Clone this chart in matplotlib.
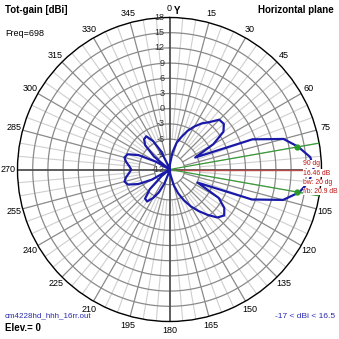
"""Horizontal-plane gain pattern (EZNEC style polar plot)."""

import numpy as np
import matplotlib
matplotlib.use("Agg")
import matplotlib.pyplot as plt
from matplotlib.transforms import offset_copy

# azimuth (deg, clockwise from Y) and total gain (dBi)
azimuth = np.arange(0, 360, 5)
gain = np.array([
    -14.0, -11.0, -8.5, -6.5, -5.2, -3.6, -2.2, -0.9,     # 0..35
    0.2, 1.9, 2.0, 1.0, -2.0, -6.4, 5.4, 11.3,            # 40..75
    13.8, 15.9, 16.46, 15.6, 14.0, 11.2, 5.3, -5.9,       # 80..115
    -0.8, 1.2, 2.1, 1.4, -0.3, -2.0, -3.6, -5.3,          # 120..155
    -7.0, -8.8, -11.0, -14.0, -17.0, -14.0, -12.5, -11.0, # 160..195
    -9.0, -7.0, -5.5, -4.3, -4.5, -6.5, -10.0, -14.0,     # 200..235
    -8.0, -5.2, -3.3, -2.8, -3.3, -4.0, -4.44, -4.0,      # 240..275
    -3.3, -2.8, -3.2, -5.3, -9.0, -14.0, -8.0, -5.2,      # 280..315
    -4.2, -4.0, -5.5, -8.0, -11.0, -14.0, -16.0, -15.0,   # 320..355
])
ring_values = [-12, -9, -6, -3, 0, 3, 6, 9, 12, 15, 18]
angle_labels = [a for a in range(0, 360, 15) if a != 90]
hp_angles = [80, 100]          # half-power (-3 dB) directions
freq = 698
elev = 0
fname = "cm4228hd_hhh_16rr.out"

R_MIN, R_MAX = -12, 18
W = 339

fig = plt.figure(figsize=(3.39, 3.39), dpi=100)
plt.rcParams["font.family"] = ["Liberation Sans", "DejaVu Sans"]

cx, cy, rad = 169.5, 169.5, 152
ax = fig.add_axes([(cx - rad) / W, (W - cy - rad) / W, 2 * rad / W, 2 * rad / W],
                  projection="polar")
ax.set_theta_zero_location("N")
ax.set_theta_direction(-1)
ax.set_ylim(R_MIN, R_MAX)
ax.grid(False)
ax.set_xticks([])
ax.set_yticks([])
ax.spines["polar"].set_color("black")
ax.spines["polar"].set_linewidth(1.0)

full = np.linspace(0, 2 * np.pi, 361)
# rings
for g in ring_values[1:-1]:
    ax.plot(full, np.full_like(full, g), color="#8a8a8a", lw=0.9, zorder=1)
# spokes
for a in range(0, 360, 5):
    t = np.radians(a)
    if a % 90 == 0:
        ax.plot([t, t], [R_MIN, R_MAX], color="#505050", lw=1.3, zorder=2)
    elif a % 15 == 0:
        ax.plot([t, t], [-9, R_MAX], color="#8a8a8a", lw=0.9, zorder=1)
    else:
        ax.plot([t, t], [-6, R_MAX], color="#cfcfcf", lw=0.8, zorder=0.5)

# ring labels along 0 deg
lab_tr = offset_copy(ax.transData, fig=fig, x=-3.5, y=0, units="points")
for g in ring_values:
    ax.text(0, g, str(g), transform=lab_tr, ha="right", va="center",
            fontsize=6.5, color="#303030", zorder=3)

# azimuth labels
for a in angle_labels:
    ax.text(np.radians(a), R_MAX + 1.8, str(a), ha="center", va="center",
            fontsize=6.5, color="black")

# max direction and beamwidth lines
i_max = int(np.argmax(gain))
a_max = azimuth[i_max]
g_max = gain[i_max]
ax.plot([np.radians(a_max)] * 2, [R_MIN, R_MAX], color="#b84a4a", lw=1.0, zorder=3)
for a in hp_angles:
    ax.plot([np.radians(a)] * 2, [R_MIN, R_MAX], color="#3a9a3a", lw=0.9, zorder=3)

# pattern
th = np.radians(np.append(azimuth, azimuth[0]))
rr = np.maximum(np.append(gain, gain[0]), R_MIN)
ax.plot(th, rr, color="#1a1aa8", lw=1.6, zorder=4)
ax.plot(np.radians(hp_angles), [g_max - 3] * len(hp_angles), "o",
        color="#2a9a2a", ms=3.5, zorder=5)

# texts around the plot
def px(x, y):
    return x / W, 1 - y / W

back = gain[list(azimuth).index((a_max + 180) % 360)]
bw = hp_angles[1] - hp_angles[0]
red = "#c01010"
info = [f"{a_max} dg", f"{g_max:.2f} dB", f"bw: {bw} dg", f"f/b: {g_max - back:.1f} dB"]
for k, s in enumerate(info):
    fig.text(*px(303, 164 + k * 9.2), s, ha="left", va="center", fontsize=4.9,
             color=red, zorder=6,
             bbox=dict(facecolor="white", edgecolor="none", pad=0.2))

fig.text(*px(5, 10), "Tot-gain [dBi]", ha="left", va="center", fontsize=7,
         fontweight="bold")
fig.text(*px(5, 33), f"Freq={freq}", ha="left", va="center", fontsize=6.5)
fig.text(*px(334, 10), "Horizontal plane", ha="right", va="center", fontsize=7,
         fontweight="bold")
fig.text(*px(177, 11), "Y", ha="center", va="center", fontsize=7, fontweight="bold")
fig.text(*px(5, 316), fname, ha="left", va="center", fontsize=5.8, color="#2a2ab0")
fig.text(*px(5, 328), f"Elev.= {elev}", ha="left", va="center", fontsize=7,
         fontweight="bold")
fig.text(*px(335, 316), f"{gain.min():.0f} < dBi < {gain.max():.1f}", ha="right",
         va="center", fontsize=6, color="#2a2ab0")

fig.savefig("out.png", dpi=100, facecolor="white")
